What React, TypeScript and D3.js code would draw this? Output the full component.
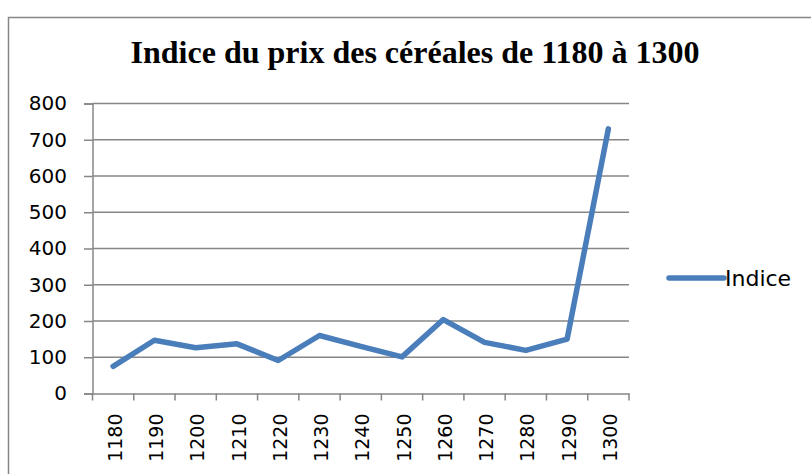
import React, { useEffect, useRef } from 'react';
import * as d3 from 'd3';

const years = ['1180', '1190', '1200', '1210', '1220', '1230', '1240', '1250', '1260', '1270', '1280', '1290', '1300'];
const indice = [75, 147, 126, 137, 91, 160, 130, 101, 204, 141, 119, 150, 730];
const yTicks = [0, 100, 200, 300, 400, 500, 600, 700, 800];
const seriesName = 'Indice';
const title = 'Indice du prix des céréales de 1180 à 1300';

function App() {
  const ref = useRef<SVGSVGElement>(null);

  useEffect(() => {
    const svg = d3.select(ref.current);
    svg.selectAll('*').remove();

    const width = 811, height = 474;
    const margin = { top: 103.5, right: 182, bottom: 80.5, left: 92.5 };
    const grey = '#868686';
    const blue = '#4a7ebb';
    const labelFont = '"DejaVu Sans", sans-serif';

    // chart frame
    svg.append('rect')
      .attr('x', 8.5).attr('y', 17.5)
      .attr('width', 830).attr('height', 480)
      .attr('fill', 'white')
      .attr('stroke', grey).attr('stroke-width', 1.5);

    svg.append('text')
      .attr('x', 415).attr('y', 63)
      .attr('text-anchor', 'middle')
      .attr('font-family', '"Liberation Serif", "Times New Roman", serif')
      .attr('font-weight', 'bold')
      .attr('font-size', 32)
      .text(title);

    const x = d3.scaleBand()
      .domain(years)
      .range([margin.left, width - margin.right]);

    const y = d3.scaleLinear()
      .domain([0, 800])
      .range([height - margin.bottom, margin.top]);

    // horizontal gridlines
    svg.append('g')
      .selectAll('line')
      .data(yTicks.filter(d => d > 0))
      .join('line')
      .attr('x1', margin.left).attr('x2', width - margin.right)
      .attr('y1', d => y(d)).attr('y2', d => y(d))
      .attr('stroke', grey).attr('stroke-width', 1.5);

    // y axis
    const yAxis = svg.append('g')
      .attr('transform', `translate(${margin.left},0)`)
      .call(d3.axisLeft(y).tickValues(yTicks).tickSize(8.5).tickPadding(17));
    yAxis.selectAll('line, path').attr('stroke', grey).attr('stroke-width', 1.5);
    yAxis.selectAll('text')
      .attr('font-family', labelFont)
      .attr('font-size', 20)
      .attr('fill', '#000');

    // x axis
    const xAxis = svg.append('g')
      .attr('transform', `translate(0,${y(0)})`)
      .call(d3.axisBottom(x).tickSizeOuter(0).tickSize(0));
    xAxis.select('path').attr('stroke', grey).attr('stroke-width', 1.5);
    xAxis.selectAll('.tick text')
      .attr('font-family', labelFont)
      .attr('font-size', 19)
      .attr('fill', '#000')
      .attr('text-anchor', 'end')
      .attr('x', 0).attr('y', 0)
      .attr('dy', '0.35em')
      .attr('transform', 'translate(2,0) rotate(-90) translate(-20,0)');

    // category boundary tick marks
    const bounds = years.map(d => x(d) as number).concat([width - margin.right]);
    svg.append('g')
      .selectAll('line')
      .data(bounds)
      .join('line')
      .attr('x1', d => d).attr('x2', d => d)
      .attr('y1', y(0)).attr('y2', y(0) + 7)
      .attr('stroke', grey).attr('stroke-width', 1.5);

    const line = d3.line<number>()
      .x((d, i) => (x(years[i]) as number) + x.bandwidth() / 2)
      .y(d => y(d));

    svg.append('path')
      .datum(indice)
      .attr('fill', 'none')
      .attr('stroke', blue)
      .attr('stroke-width', 5.5)
      .attr('stroke-linejoin', 'round')
      .attr('stroke-linecap', 'round')
      .attr('d', line);

    // legend
    const lg = svg.append('g').attr('transform', 'translate(669,278)');
    lg.append('line')
      .attr('x1', 0).attr('x2', 55)
      .attr('stroke', blue).attr('stroke-width', 5.5)
      .attr('stroke-linecap', 'round');
    lg.append('text')
      .attr('x', 56).attr('dy', '0.36em')
      .attr('font-family', labelFont)
      .attr('font-size', 22)
      .text(seriesName);
  }, []);

  return (
    <svg ref={ref} width={811} height={474}
      style={{ position: 'absolute', left: 0, top: 0, background: 'white' }} />
  );
}

export default App;
